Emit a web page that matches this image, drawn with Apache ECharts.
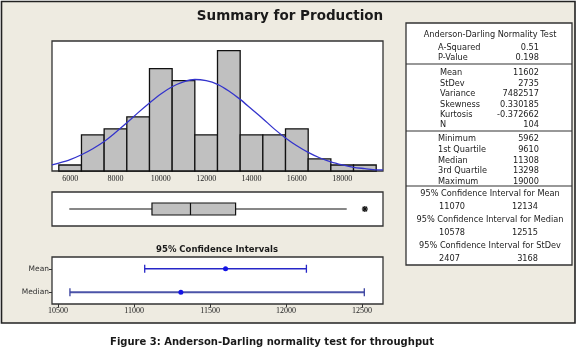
<!DOCTYPE html>
<html><head><meta charset="utf-8">
<script src="https://cdn.jsdelivr.net/npm/echarts@6/dist/echarts.min.js"></script>
<style>html,body{margin:0;padding:0;background:#fff}#c{width:579px;height:351px}</style>
</head><body><div id="c"></div>
<script>
// ---- data ----
const binCenters = [6000,7000,8000,9000,10000,11000,12000,13000,14000,15000,16000,17000,18000,19000];
const binCounts  = [1,6,7,9,17,15,6,20,6,6,7,2,1,1];
const binWidth = 1000;
const curveX = [5200,5500,6000,6500,7000,7500,8000,8500,9000,9500,10000,10500,11000,11500,12000,12500,13000,13500,14000,14500,15000,15500,16000,16500,17000,17500,18000,18500,19000,19500,19800];
const curveY = [1.0,1.3,1.9,2.7,3.7,4.9,6.4,8.0,9.7,11.3,12.8,14.0,14.8,15.2,15.0,14.4,13.3,11.9,10.3,8.7,7.0,5.5,4.2,3.1,2.2,1.5,1.0,0.6,0.4,0.2,0.2];
const histTicks = [6000,8000,10000,12000,14000,16000,18000];
const boxStats = [5962, 9610, 11308, 13298, 18200]; // whisker low, Q1, median, Q3, whisker high
const outliers = [19000];
const ciCategories = ['Median','Mean'];
const ciLow  = [10578, 11070];
const ciEst  = [11308, 11602];
const ciHigh = [12515, 12134];
const ciTicks = [10500,11000,11500,12000,12500];
const titleText = 'Summary for Production';
const ciTitle = '95% Confidence Intervals';
const captionText = 'Figure 3: Anderson-Darling normality test for throughput';
const adHeader = 'Anderson-Darling Normality Test';
const adRows = [['A-Squared','0.51'],['P-Value','0.198']];
const descRows = [['Mean','11602'],['StDev','2735'],['Variance','7482517'],['Skewness','0.330185'],['Kurtosis','-0.372662'],['N','104']];
const quartRows = [['Minimum','5962'],['1st Quartile','9610'],['Median','11308'],['3rd Quartile','13298'],['Maximum','19000']];
const ciRows = [['95% Confidence Interval for Mean','11070','12134'],['95% Confidence Interval for Median','10578','12515'],['95% Confidence Interval for StDev','2407','3168']];

// ---- layout / styles ----
const BG = '#eeebe1';
const TXT = '#222';
const tFont = '8.2px "DejaVu Sans"';
const graphics = [];
graphics.push({type:'rect', z:-10, shape:{x:1.5,y:1.5,width:573.5,height:321.5}, style:{fill:BG, stroke:'#222', lineWidth:1.6}});
function txt(x,y,text,font,align,fill){
  graphics.push({type:'text', x:x, y:y, z:5, style:{text:text, font:font, fill:fill||TXT, align:align||'left', verticalAlign:'middle'}});
}
txt(290,16,titleText,'bold 13.5px "DejaVu Sans"','center','#1a1a1a');
txt(217,250,ciTitle,'bold 8.5px "DejaVu Sans"','center','#1a1a1a');
txt(272,342,captionText,'bold 10px "DejaVu Sans"','center','#1a1a1a');
// table
graphics.push({type:'rect', z:4, shape:{x:406,y:23,width:166,height:242}, style:{fill:'#fff', stroke:'#333', lineWidth:1.3}});
[64,131,186].forEach(function(y){
  graphics.push({type:'line', z:5, shape:{x1:406,y1:y,x2:572,y2:y}, style:{stroke:'#333', lineWidth:1.2}});
});
txt(490,35,adHeader,tFont,'center');
const adY=[48,58], descY=[73,83.5,94,104.5,115,125], quartY=[139,150,160.5,171,182];
adRows.forEach(function(r,i){txt(438,adY[i],r[0],tFont,'left');txt(539,adY[i],r[1],tFont,'right');});
descRows.forEach(function(r,i){txt(440,descY[i],r[0],tFont,'left');txt(539,descY[i],r[1],tFont,'right');});
quartRows.forEach(function(r,i){txt(438,quartY[i],r[0],tFont,'left');txt(539,quartY[i],r[1],tFont,'right');});
const ciTY=[194,220,246];
ciRows.forEach(function(r,i){
  txt(490,ciTY[i],r[0],tFont,'center');
  txt(439,ciTY[i]+13,r[1],tFont,'left');
  txt(538,ciTY[i]+13,r[2],tFont,'right');
});

const plain = function(v){ return String(Math.round(v)); };
const gridBase = {show:true, backgroundColor:'#fff', borderColor:'#333', borderWidth:1.3, containLabel:false};
const option = {
  animation:false,
  backgroundColor:'#fff',
  graphic: graphics,
  grid: [
    Object.assign({left:52, top:41, width:331, height:130}, gridBase),
    Object.assign({left:52, top:192, width:331, height:34}, gridBase),
    Object.assign({left:52, top:257, width:331, height:47}, gridBase)
  ],
  xAxis: [
    {gridIndex:0, type:'value', min:5200, max:19800, splitLine:{show:false}, axisLine:{show:false},
     axisTick:{show:false, customValues:histTicks},
     axisLabel:{customValues:histTicks, formatter:plain, fontSize:8, fontFamily:'"Liberation Serif"', color:'#222', margin:4}},
    {gridIndex:1, type:'value', min:5200, max:19800, show:false, splitLine:{show:false}},
    {gridIndex:2, type:'value', min:10460, max:12638, splitLine:{show:false}, axisLine:{show:false},
     axisTick:{show:true, customValues:ciTicks, length:3, lineStyle:{color:'#333'}},
     axisLabel:{customValues:ciTicks, formatter:plain, fontSize:8, fontFamily:'"Liberation Serif"', color:'#222', margin:3}}
  ],
  yAxis: [
    {gridIndex:0, type:'value', min:0, max:21.6, show:false, splitLine:{show:false}},
    {gridIndex:1, type:'category', data:[''], show:false},
    {gridIndex:2, type:'category', data:ciCategories, axisLine:{show:false},
     axisTick:{show:true, alignWithLabel:true, length:3, lineStyle:{color:'#333'}},
     axisLabel:{fontSize:7.5, fontFamily:'"DejaVu Sans"', color:'#333', margin:3}, splitLine:{show:false}}
  ],
  series: [
    {type:'custom', xAxisIndex:0, yAxisIndex:0, z:2,
     data: binCenters.map(function(c,i){return [c, binCounts[i]];}),
     renderItem:function(params, api){
       const c = api.value(0), n = api.value(1);
       const p0 = api.coord([c - binWidth/2, n]);
       const p1 = api.coord([c + binWidth/2, 0]);
       return {type:'rect', shape:{x:p0[0], y:p0[1], width:p1[0]-p0[0], height:p1[1]-p0[1]},
               style:{fill:'#c0c0c0', stroke:'#111', lineWidth:1.3}};
     }},
    {type:'line', xAxisIndex:0, yAxisIndex:0, z:3, smooth:0.3, showSymbol:false, clip:true,
     data: curveX.map(function(x,i){return [x, curveY[i]];}),
     lineStyle:{color:'#3434cc', width:1.3}},
    {type:'custom', xAxisIndex:1, yAxisIndex:1, z:3,
     data:[[0].concat(boxStats)],
     renderItem:function(params, api){
       const lo = api.coord([api.value(1), 0]), q1 = api.coord([api.value(2), 0]), md = api.coord([api.value(3), 0]),
             q3 = api.coord([api.value(4), 0]), hi = api.coord([api.value(5), 0]);
       const y = lo[1], h = 12;
       const ls = {stroke:'#111', lineWidth:1.2};
       return {type:'group', children:[
         {type:'line', shape:{x1:lo[0],y1:y,x2:q1[0],y2:y}, style:ls},
         {type:'line', shape:{x1:q3[0],y1:y,x2:hi[0],y2:y}, style:ls},
         {type:'rect', shape:{x:q1[0], y:y-h/2, width:q3[0]-q1[0], height:h}, style:{fill:'#c0c0c0', stroke:'#111', lineWidth:1.2}},
         {type:'line', shape:{x1:md[0],y1:y-h/2,x2:md[0],y2:y+h/2}, style:ls}
       ]};
     }},
    {type:'custom', xAxisIndex:1, yAxisIndex:1, z:3,
     data: outliers.map(function(v){return [v, 0];}),
     renderItem:function(params, api){
       const p = api.coord([api.value(0), 0]);
       const r = 3, d = 2.2;
       const ls = {stroke:'#111', lineWidth:1.3};
       return {type:'group', children:[
         {type:'line', shape:{x1:p[0]-r,y1:p[1],x2:p[0]+r,y2:p[1]}, style:ls},
         {type:'line', shape:{x1:p[0],y1:p[1]-r,x2:p[0],y2:p[1]+r}, style:ls},
         {type:'line', shape:{x1:p[0]-d,y1:p[1]-d,x2:p[0]+d,y2:p[1]+d}, style:ls},
         {type:'line', shape:{x1:p[0]-d,y1:p[1]+d,x2:p[0]+d,y2:p[1]-d}, style:ls}
       ]};
     }},
    {type:'custom', xAxisIndex:2, yAxisIndex:2, z:3,
     data: ciCategories.map(function(c,i){return [i, ciLow[i], ciEst[i], ciHigh[i]];}),
     renderItem:function(params, api){
       const idx = api.value(0);
       const a = api.coord([api.value(1), idx]), e = api.coord([api.value(2), idx]), b = api.coord([api.value(3), idx]);
       const y = a[1], ch = 4;
       const isMedian = idx === 0;
       const ls = {stroke: isMedian ? '#4b53a8' : '#2626c8', lineWidth: isMedian ? 2 : 1.3};
       const cs = {stroke: isMedian ? '#3a42a0' : '#2626c8', lineWidth:1.3};
       return {type:'group', children:[
         {type:'line', shape:{x1:a[0],y1:y,x2:b[0],y2:y}, style:ls},
         {type:'line', shape:{x1:a[0],y1:y-ch,x2:a[0],y2:y+ch}, style:cs},
         {type:'line', shape:{x1:b[0],y1:y-ch,x2:b[0],y2:y+ch}, style:cs},
         {type:'circle', shape:{cx:e[0], cy:y, r:2.5}, style:{fill:'#1414e6'}}
       ]};
     }}
  ]
};
const chart = echarts.init(document.getElementById('c'), null, {renderer:'canvas'});
chart.setOption(option);
</script>
</body></html>
